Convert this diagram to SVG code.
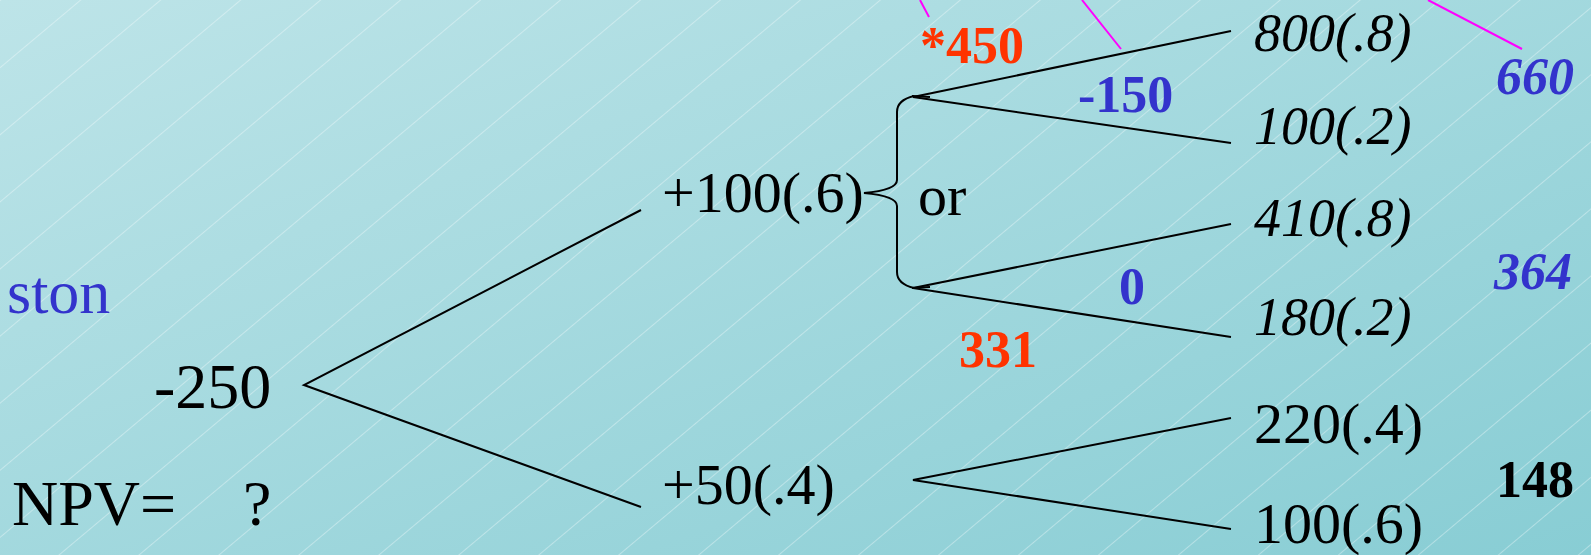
<svg xmlns="http://www.w3.org/2000/svg" width="1591" height="555" viewBox="0 0 1591 555">
<defs>
<linearGradient id="bg" x1="0" y1="0" x2="1" y2="1">
<stop offset="0" stop-color="#bde4e8"/>
<stop offset="1" stop-color="#88cdd4"/>
</linearGradient>
<pattern id="hatch" width="51.4" height="600" patternUnits="userSpaceOnUse" patternTransform="rotate(50)">
<line x1="0.5" y1="0" x2="0.5" y2="600" stroke="#ffffff" stroke-opacity="0.35" stroke-width="1"/>
</pattern>
<style>
.t{font-family:"Liberation Serif","Times New Roman",serif;fill:#000}
.n{font-size:58px}
.big{font-size:64px}
.it{font-size:54px;font-style:italic}
.bo{font-size:52px;font-weight:bold}
.red{fill:#ff3300}
.blue{fill:#3333cc}
.bi{font-size:52px;font-weight:bold;font-style:italic;fill:#3333cc}
.ln{stroke:#000;stroke-width:2;fill:none}
.mg{stroke:#ff00ff;stroke-width:2;fill:none}
</style>
</defs>
<rect width="1591" height="555" fill="url(#bg)"/>
<rect width="1591" height="555" fill="url(#hatch)"/>

<g id="connectors">
<path class="ln" d="M641 210 L304 385 L641 507"/>
<path class="ln" d="M1231 31 L913 97 L1231 143"/>
<path class="ln" d="M1231 224 L913 288 L1231 337"/>
<path class="ln" d="M1231 418 L913 480 L1231 529"/>
<path class="ln" d="M912 96 L930 97 M912 288 L930 287"/>
<path class="ln" d="M914 96 Q897 100 897 112 L897 180 Q897 190 864 193 Q897 196 897 206 L897 272 Q897 284 914 288"/>
<path class="mg" d="M920 0 L929 17"/>
<path class="mg" d="M1082 0 L1121 49"/>
<path class="mg" d="M1428 0 L1522 49"/>
</g>

<g id="label-ston"><text class="t blue" x="7" y="313" style="font-size:62px">ston</text></g>
<g id="node-root"><text class="t big" x="154" y="408">-250</text></g>
<g id="label-npv"><text class="t big" x="12" y="525">NPV=</text><text class="t big" x="243" y="525">?</text></g>
<g id="node-up"><text class="t n" x="662" y="212">+100(.6)</text></g>
<g id="label-or"><text class="t n" x="918" y="215">or</text></g>
<g id="node-down"><text class="t n" x="662" y="504">+50(.4)</text></g>

<g id="val-450"><text class="t bo red" x="920" y="63">*450</text></g>
<g id="val-m150"><text class="t bo blue" x="1078" y="112">-150</text></g>
<g id="val-0"><text class="t bo blue" x="1119" y="304">0</text></g>
<g id="val-331"><text class="t bo red" x="959" y="367">331</text></g>

<g id="leaf-800"><text class="t it" x="1254" y="51">800(.8)</text></g>
<g id="leaf-100a"><text class="t it" x="1254" y="144">100(.2)</text></g>
<g id="leaf-410"><text class="t it" x="1254" y="236">410(.8)</text></g>
<g id="leaf-180"><text class="t it" x="1254" y="335">180(.2)</text></g>
<g id="leaf-220"><text class="t n" x="1254" y="443">220(.4)</text></g>
<g id="leaf-100b"><text class="t n" x="1254" y="543">100(.6)</text></g>

<g id="val-660"><text class="t bi" x="1496" y="94">660</text></g>
<g id="val-364"><text class="t bi" x="1494" y="289">364</text></g>
<g id="val-148"><text class="t bo" x="1496" y="497">148</text></g>
</svg>
